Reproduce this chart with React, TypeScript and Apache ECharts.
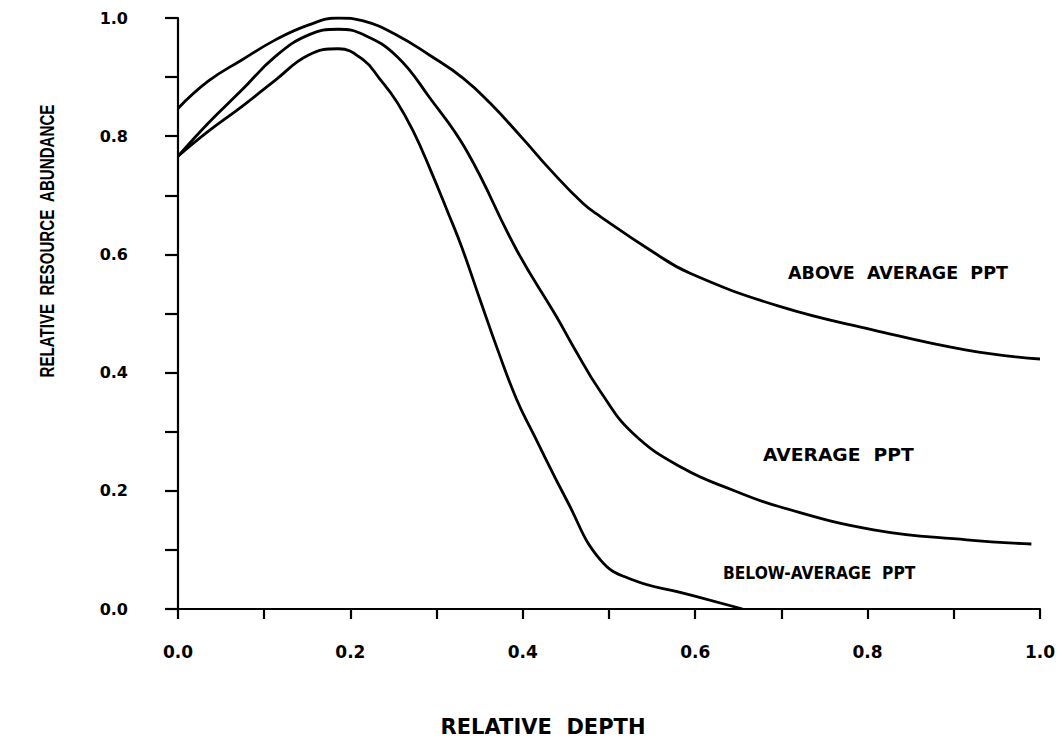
import React, { useEffect, useRef } from "react";
import * as echarts from "echarts";

// Relative resource abundance vs. relative depth for three precipitation regimes
const aboveDepth = [0.0, 0.035, 0.074, 0.113, 0.151, 0.186, 0.215, 0.254, 0.292, 0.331, 0.362, 0.4, 0.432, 0.47, 0.49, 0.548, 0.594, 0.698, 0.807, 0.915, 1.0];
const aboveAbundance = [0.847, 0.893, 0.929, 0.963, 0.988, 1.0, 0.995, 0.971, 0.937, 0.898, 0.856, 0.796, 0.743, 0.686, 0.664, 0.607, 0.568, 0.512, 0.472, 0.438, 0.423];

const averageDepth = [0.0, 0.035, 0.074, 0.113, 0.151, 0.186, 0.215, 0.254, 0.292, 0.335, 0.393, 0.439, 0.459, 0.49, 0.528, 0.586, 0.644, 0.698, 0.807, 0.915, 0.99];
const averageAbundance = [0.766, 0.822, 0.878, 0.935, 0.971, 0.981, 0.972, 0.935, 0.865, 0.775, 0.607, 0.495, 0.443, 0.368, 0.297, 0.238, 0.201, 0.173, 0.134, 0.117, 0.11];

const belowDepth = [0.0, 0.035, 0.074, 0.113, 0.151, 0.186, 0.215, 0.234, 0.254, 0.273, 0.292, 0.314, 0.329, 0.35, 0.371, 0.393, 0.412, 0.451, 0.49, 0.528, 0.586, 0.655];
const belowAbundance = [0.766, 0.808, 0.85, 0.895, 0.937, 0.948, 0.929, 0.897, 0.858, 0.808, 0.746, 0.668, 0.613, 0.525, 0.438, 0.354, 0.297, 0.184, 0.083, 0.049, 0.027, 0.0];

const seriesNames = ["ABOVE  AVERAGE  PPT", "AVERAGE  PPT", "BELOW-AVERAGE  PPT"];
const xTitle = "RELATIVE  DEPTH";
const yTitle = "RELATIVE  RESOURCE  ABUNDANCE";

const pairs = (xs: number[], ys: number[]) => xs.map((x, i) => [x, ys[i]]);

// Only every other tick (0.0, 0.2, ...) carries a label
const tickText = (v: number) =>
  Math.round(v * 10) % 2 === 0 ? v.toFixed(1) : "";

const FONT = "DejaVu Sans";

export default function App() {
  const ref = useRef<HTMLDivElement>(null);

  useEffect(() => {
    if (!ref.current) return;
    const chart = echarts.init(ref.current, undefined, { renderer: "svg" });

    const lineStyle = { color: "#000", width: 2.8 };
    const axisCommon = {
      type: "value" as const,
      min: 0,
      max: 1,
      interval: 0.1,
      splitLine: { show: false },
      axisLine: { show: true, lineStyle: { color: "#000", width: 2.2 } },
      axisTick: { show: true, lineStyle: { color: "#000", width: 2.2 } },
    };

    const labelStyle = {
      fill: "#000",
      fontFamily: FONT,
      fontWeight: "bold" as const,
      fontSize: 17.5,
    };

    chart.setOption({
      animation: false,
      backgroundColor: "#fff",
      grid: { left: 178, right: 22, top: 18, bottom: 132, containLabel: false },
      xAxis: {
        ...axisCommon,
        axisTick: { ...axisCommon.axisTick, length: 10 },
        axisLabel: {
          formatter: tickText,
          color: "#000",
          fontFamily: FONT,
          fontWeight: "bold",
          fontSize: 17,
          margin: 34,
        },
      },
      yAxis: {
        ...axisCommon,
        axisTick: { ...axisCommon.axisTick, length: 13 },
        axisLabel: {
          formatter: tickText,
          color: "#000",
          fontFamily: FONT,
          fontWeight: "bold",
          fontSize: 16,
          margin: 50,
        },
      },
      series: [
        { name: seriesNames[0], data: pairs(aboveDepth, aboveAbundance) },
        { name: seriesNames[1], data: pairs(averageDepth, averageAbundance) },
        { name: seriesNames[2], data: pairs(belowDepth, belowAbundance) },
      ].map((s) => ({
        ...s,
        type: "line",
        smooth: 0.45,
        showSymbol: false,
        lineStyle,
        z: 3,
      })),
      graphic: [
        {
          type: "text",
          x: 788,
          y: 273,
          style: { ...labelStyle, text: seriesNames[0], textVerticalAlign: "middle" },
        },
        {
          type: "text",
          x: 763,
          y: 455,
          scaleX: 1.07,
          style: { ...labelStyle, text: seriesNames[1], textVerticalAlign: "middle" },
        },
        {
          type: "text",
          x: 723,
          y: 573,
          scaleX: 0.885,
          style: { ...labelStyle, text: seriesNames[2], textVerticalAlign: "middle" },
        },
        {
          type: "text",
          x: 543,
          y: 727,
          style: {
            ...labelStyle,
            fontSize: 21,
            text: xTitle,
            textAlign: "center",
            textVerticalAlign: "middle",
          },
        },
        {
          type: "text",
          x: 47,
          y: 241,
          rotation: Math.PI / 2,
          scaleX: 0.72,
          style: {
            ...labelStyle,
            fontFamily: "Liberation Sans",
            fontSize: 21,
            text: yTitle,
            textAlign: "center",
            textVerticalAlign: "middle",
          },
        },
      ],
    });

    return () => chart.dispose();
  }, []);

  return <div ref={ref} style={{ width: 1062, height: 741, position: "absolute", left: 0, top: 0 }} />;
}
